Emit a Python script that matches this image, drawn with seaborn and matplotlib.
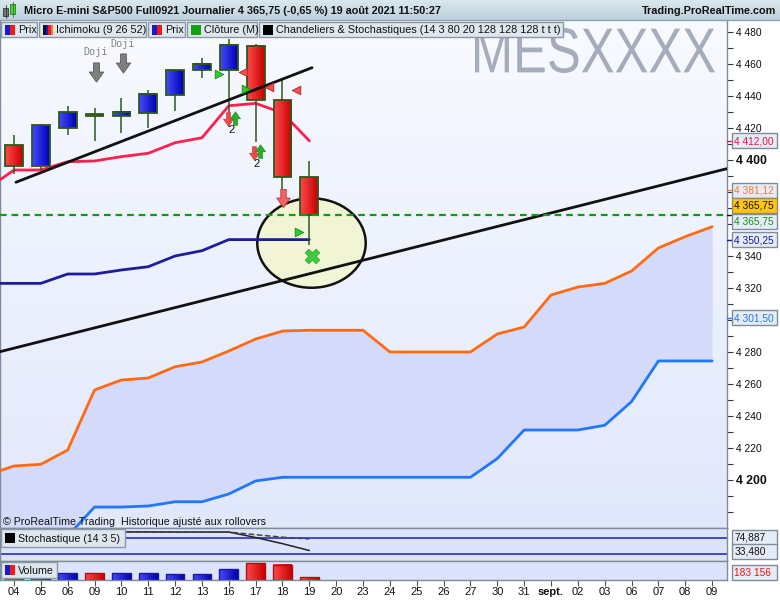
import numpy as np
import pandas as pd
import matplotlib
matplotlib.use("Agg")
import matplotlib.pyplot as plt
import seaborn as sns
from matplotlib.patches import Rectangle, Ellipse, PathPatch
from matplotlib.path import Path
from matplotlib.textpath import TextPath
from matplotlib.font_manager import FontProperties
from matplotlib.transforms import Affine2D
from matplotlib.colors import LinearSegmentedColormap

# ---------------- data ----------------
date_labels = ["04", "05", "06", "09", "10", "11", "12", "13", "16", "17", "18", "19", "20",
               "23", "24", "25", "26", "27", "30", "31", "sept.", "02", "03", "06", "07", "08", "09"]

candle_idx = list(range(12))
candle_open = [4409.4, 4396.4, 4420.2, 4428.5, 4427.3, 4429.2, 4440.4, 4456.0, 4456.0, 4471.2, 4437.3, 4389.4]
candle_high = [4415.6, 4422.5, 4433.7, 4432.5, 4438.7, 4443.7, 4456.0, 4463.7, 4475.4, 4472.5, 4450.0, 4399.4]
candle_low = [4391.2, 4393.7, 4415.6, 4412.0, 4416.7, 4420.2, 4430.6, 4451.0, 4420.8, 4411.5, 4381.7, 4346.9]
candle_close = [4396.4, 4421.9, 4430.0, 4427.5, 4430.0, 4441.2, 4456.0, 4460.0, 4471.9, 4437.3, 4389.4, 4365.75]
volume = [520000, 600000, 450000, 450000, 450000, 450000, 400000, 400000, 745000, 1130000, 1020000, 183156]

line_idx = list(range(-1, 12))
tenkan = [4382.0, 4393.75, 4393.75, 4398.9, 4399.4, 4402.1, 4404.2, 4410.8, 4413.9, 4433.9, 4435.4, 4429.4, 4412.0]
kijun = [4322.9, 4322.9, 4322.9, 4328.75, 4328.75, 4331.25, 4333.3, 4340.0, 4343.3, 4350.25, 4350.25, 4350.25, 4350.25]

span_idx = list(range(-1, 27))
span_a = [4203.1, 4208.75, 4209.8, 4218.75, 4256.25, 4262.5, 4263.75, 4270.8, 4273.75, 4280.6, 4288.1,
          4293.1, 4293.6, 4293.6, 4293.6, 4280.0, 4280.0, 4280.0, 4280.0, 4291.25, 4295.6, 4315.6,
          4320.6, 4322.9, 4330.6, 4345.0, 4352.1, 4358.3]
span_b = [4150.0, 4155.0, 4160.0, 4165.0, 4183.1, 4183.1, 4183.75, 4186.4, 4186.4, 4191.25, 4199.4,
          4201.7, 4201.7, 4201.7, 4201.7, 4201.7, 4201.7, 4201.7, 4201.7, 4213.4, 4231.25, 4231.25,
          4231.25, 4234.2, 4249.0, 4274.4, 4274.4, 4274.4]

stoch_k = [97, 98, 99, 100, 100, 100, 99.5, 99.5, 99.5, 80, 58, 33.48]
stoch_d = [95, 96, 97, 98, 99, 99, 99.5, 99.5, 99.5, 90, 81, 74.887]
stoch_levels = [80, 20]

trend1_x = [0.074, 11.10]
trend1_y = [4386.1, 4457.7]
trend2_x = [-0.521, 26.555]
trend2_y = [4280.2, 4394.6]

ellipse_center = (11.08, 4348.1)
ellipse_size = (4.04, 55.9)

green_tri_x = [7.63, 8.63, 10.61]
green_tri_y = [4453.6, 4444.4, 4354.8]
red_tri_x = [8.53, 9.50, 10.50]
red_tri_y = [4454.8, 4445.8, 4443.6]
small_down_x = [7.97, 8.94]
small_down_y = [4425.4, 4404.6]
small_up_x = [8.23, 9.16]
small_up_y = [4426.4, 4405.8]
count_x = [8.10, 9.05]
count_y = [4418.5, 4397.8]
count_text = ["2", "2"]
big_down_x = [10.02]
big_down_y = [4376.0]
doji_x = [3.05, 4.06]
doji_arrow_y = [4455.2, 4460.8]
doji_text_y = [4467.7, 4472.5]
cross_x = [11.09]
cross_y = [4340.2]

tenkan_label = 4412.00
span_a_label = 4381.12
last_price = 4365.75
kijun_label = 4350.25
span_b_label = 4301.50
price_ticks = list(range(4200, 4481, 20))
covered_ticks = [4380, 4360, 4300]

# ---------------- style ----------------
sns.set_theme(style="white")
plt.rcParams['font.family'] = ['Liberation Sans', 'DejaVu Sans']
plt.rcParams['axes.linewidth'] = 1.0

W, H = 780, 600
fig = plt.figure(figsize=(7.8, 6), dpi=100)
fig.patch.set_facecolor('white')


def px_axes(x0, y0, x1, y1, z=0):
    return fig.add_axes([x0 / W, 1 - y1 / H, (x1 - x0) / W, (y1 - y0) / H], zorder=z)


ax = px_axes(0, 20, 727, 528, 1)
ax_st = px_axes(0, 528, 727, 561, 1)
ax_vol = px_axes(0, 561, 727, 580, 1)
hdr = px_axes(0, 0, 780, 20, 1)

XL = (-0.521, 26.555)
YL = (4170, 4487.5)
spine_c = '#7d8c97'


def vgrad(a, top, bottom, z=0):
    cm = LinearSegmentedColormap.from_list('g', [bottom, top])
    a.imshow(np.linspace(0, 1, 256).reshape(-1, 1), extent=[0, 1, 0, 1], transform=a.transAxes,
             cmap=cm, aspect='auto', origin='lower', zorder=z)


# header
vgrad(hdr, '#dae7ee', '#bdd1dc')
hdr.axis('off')

# main background
vgrad(ax, '#f8faff', '#e1e8fb', 0)

# cloud
ax.fill_between(span_idx, span_a, span_b, color='#d3dafa', lw=0, zorder=1)

# ellipse
ax.add_patch(Ellipse(ellipse_center, ellipse_size[0], ellipse_size[1], facecolor='#f1f5d6',
                     edgecolor='#111111', lw=1.8, zorder=2))

# ichimoku lines
sns.lineplot(x=span_idx, y=span_a, ax=ax, color='#ff6a12', lw=2, zorder=3, legend=False)
sns.lineplot(x=span_idx, y=span_b, ax=ax, color='#1f78ff', lw=2, zorder=3, legend=False)
sns.lineplot(x=line_idx, y=tenkan, ax=ax, color='#ff1f4f', lw=2, zorder=3, legend=False)
sns.lineplot(x=line_idx, y=kijun, ax=ax, color='#1c1c9c', lw=2, zorder=3, legend=False)

# trend lines & close line
ax.plot(trend1_x, trend1_y, color='#111111', lw=2, zorder=6)
ax.plot(trend2_x, trend2_y, color='#111111', lw=2, zorder=6)
ax.axhline(last_price, color='#109a10', lw=1.6, ls=(0, (3, 2.2)), zorder=6)

# candles
edge = '#2c5a1c'
ax.vlines(candle_idx, candle_low, candle_high, color=edge, lw=1.1, zorder=4)
body_lo = [min(o, c) for o, c in zip(candle_open, candle_close)]
body_h = [max(abs(c - o), 0.8) for o, c in zip(candle_open, candle_close)]
up = [c >= o for o, c in zip(candle_open, candle_close)]
bw = 0.66
bars = ax.bar(candle_idx, body_h, bottom=body_lo, width=bw, facecolor='none', edgecolor=edge,
              lw=1.3, zorder=5.1)
cm_red = LinearSegmentedColormap.from_list('r', ['#ff4a4a', '#c80000'])
cm_blue = LinearSegmentedColormap.from_list('b', ['#4848ff', '#0000b0'])
grad_row = np.linspace(0, 1, 64).reshape(1, -1)
for b, u in zip(bars, up):
    x0, y0, w, h = b.get_x(), b.get_y(), b.get_width(), b.get_height()
    ax.imshow(grad_row, extent=[x0, x0 + w, y0, y0 + h], cmap=cm_blue if u else cm_red,
              aspect='auto', zorder=5, interpolation='bilinear')

# signal markers
ax.scatter(green_tri_x, green_tri_y, marker='>', s=38, color='#2ccc2c', edgecolor='#168a16', lw=0.6, zorder=7)
ax.scatter(red_tri_x, red_tri_y, marker='<', s=38, color='#f05050', edgecolor='#b82020', lw=0.6, zorder=7)

down_path = Path([(-0.3, 1), (0.3, 1), (0.3, 0.05), (0.75, 0.05), (0, -1), (-0.75, 0.05), (-0.3, 0.05), (-0.3, 1)],
                 [Path.MOVETO] + [Path.LINETO] * 6 + [Path.CLOSEPOLY])
up_path = Path([(x, -y) for x, y in down_path.vertices], down_path.codes)
ax.scatter(small_down_x, small_down_y, marker=down_path, s=95, color='#ee4a4a', edgecolor='#c03030', lw=0.4, zorder=7)
ax.scatter(small_up_x, small_up_y, marker=up_path, s=95, color='#25b025', edgecolor='#168016', lw=0.4, zorder=7)
ax.scatter(big_down_x, big_down_y, marker=down_path, s=170, color='#f06464', edgecolor='#c83434', lw=0.6, zorder=7)
ax.scatter(doji_x, doji_arrow_y, marker=down_path, s=190, color='#808080', edgecolor='#555555', lw=0.6, zorder=7)
for x, y, t in zip(count_x, count_y, count_text):
    ax.text(x, y, t, ha='center', va='center', fontsize=8, color='#111111', zorder=7)
for x, y in zip(doji_x, doji_text_y):
    ax.text(x, y, "Doji", ha='center', va='center', fontsize=7.3, color='#858585',
            family=['DejaVu Sans Mono'], zorder=7)
ax.scatter(cross_x, cross_y, marker='X', s=110, color='#3dcc3d', edgecolor='#2aa02a', lw=0.5, zorder=7)

# main axes cosmetics
ax.set_xlim(*XL)
ax.set_ylim(*YL)
ax.set_xlabel('')
ax.set_ylabel('')
ax.set_xticks([])
ax.yaxis.tick_right()
ax.set_yticks(price_ticks, labels=["" if v in covered_ticks else f"{v // 1000} {v % 1000:03d}"
                                   for v in price_ticks])
ax.set_yticks(list(range(4180, 4490, 10)), minor=True)
ax.tick_params(axis='y', which='both', direction='out', length=4, width=0.8, color='#333333',
               pad=2.5, labelcolor='#111111', right=True, left=False)
ax.tick_params(axis='y', which='major', labelsize=7.4)
for v, tk in zip(price_ticks, ax.yaxis.get_major_ticks()):
    if v in (4400, 4200):
        for lab in (tk.label1, tk.label2):
            lab.set_fontweight('bold')
            lab.set_fontsize(8.8)
for s in ax.spines.values():
    s.set_color(spine_c)
ax.spines['top'].set_visible(False)

# stochastic panel
ax_st.set_facecolor('#dce4fb')
for lv in stoch_levels:
    ax_st.axhline(lv, color='#2a2ad0', lw=1.2, zorder=1)
sns.lineplot(x=candle_idx, y=stoch_k, ax=ax_st, color='#222222', lw=1.1, zorder=2, legend=False)
sns.lineplot(x=candle_idx, y=stoch_d, ax=ax_st, color='#444444', lw=1.1, ls='--', zorder=2, legend=False)
ax_st.set_xlim(*XL)
ax_st.set_ylim(-4, 114)
ax_st.set_xticks([])
ax_st.set_yticks([])
ax_st.set_xlabel('')
ax_st.set_ylabel('')
for s in ax_st.spines.values():
    s.set_color(spine_c)

# volume panel
ax_vol.set_facecolor('#dce4fb')
vbars = ax_vol.bar(candle_idx, volume, width=0.7, facecolor='none',
                   edgecolor=['#1a1aa0' if u else '#b01010' for u in up], lw=1.0, zorder=3)
for b, u in zip(vbars, up):
    x0, y0, w, h = b.get_x(), b.get_y(), b.get_width(), b.get_height()
    ax_vol.imshow(grad_row, extent=[x0, x0 + w, y0, y0 + h], cmap=cm_blue if u else cm_red,
                  aspect='auto', zorder=2, interpolation='bilinear')
ax_vol.set_xlim(*XL)
ax_vol.set_ylim(0, 1.29e6)
ax_vol.set_yticks([])
ax_vol.set_ylabel('')
ax_vol.set_xticks(range(len(date_labels)), labels=date_labels)
ax_vol.tick_params(axis='x', direction='out', length=4, width=0.8, color='#555555', pad=1.2,
                   labelsize=8, labelcolor='#111111', bottom=True)
for lab, tk in zip(date_labels, ax_vol.xaxis.get_major_ticks()):
    if lab == 'sept.':
        tk.label1.set_fontweight('bold')
for s in ax_vol.spines.values():
    s.set_color(spine_c)

# ---------------- overlay (chrome) ----------------
ov = fig.add_axes([0, 0, 1, 1], zorder=10)
ov.set_xlim(0, W)
ov.set_ylim(H, 0)
ov.axis('off')
ov.patch.set_alpha(0)

# watermark, fitted into its box (x 475-715, cap height 28-73 px)
tp = TextPath((0, 0), "MESXXXX", size=100, prop=FontProperties(family='Liberation Sans'))
ext = tp.get_extents()
wm_tr = (Affine2D().translate(-ext.x0, -ext.y0)
         .scale(240 / ext.width, -45 / ext.height).translate(475, 73))
ov.add_patch(PathPatch(tp, transform=wm_tr + ov.transData, facecolor='#a5acbc', lw=0, zorder=0.5))

# header
ov.plot([0, W], [20, 20], color='#8fa3ae', lw=1)
ov.add_patch(Rectangle((3, 8), 5, 8, facecolor='#777777', edgecolor='#333333', lw=0.6))
ov.plot([5.5, 5.5], [5, 18], color='#333333', lw=0.6)
ov.add_patch(Rectangle((10, 4), 5, 10, facecolor='#4cd43a', edgecolor='#2a7a1a', lw=0.6))
ov.plot([12.5, 12.5], [2, 17], color='#2a7a1a', lw=0.6)
ov.text(24, 10.5, "Micro E-mini S&P500 Full0921 Journalier 4 365,75 (-0,65 %) 19 août 2021 11:50:27",
        fontsize=7.85, fontweight='bold', va='center', ha='left', color='#111111')
ov.text(776, 10.5, "Trading.ProRealTime.com", fontsize=7.85, fontweight='bold', va='center', ha='right',
        color='#111111')

# legend row
legend_items = [(1, 37, "Prix", 'rb'), (39, 146, "Ichimoku (9 26 52)", 'multi'), (148, 185, "Prix", 'rb'),
                (187, 257, "Clôture (M)", 'green'),
                (259, 563, "Chandeliers & Stochastiques (14 3 80 20 128 128 128 t t t)", 'black')]


def icon(x, y, kind, s=10):
    if kind == 'rb':
        ov.add_patch(Rectangle((x, y), s / 2, s, facecolor='#1a1acc', lw=0))
        ov.add_patch(Rectangle((x + s / 2, y), s / 2, s, facecolor='#ee1a1a', lw=0))
    elif kind == 'multi':
        cols = ['#111111', '#1a1acc', '#ee1a1a', '#ff7a1a']
        for i, c in enumerate(cols):
            ov.add_patch(Rectangle((x + i * s / 4, y), s / 4, s, facecolor=c, lw=0))
    elif kind == 'green':
        ov.add_patch(Rectangle((x, y), s, s, facecolor='#13a013', lw=0))
    else:
        ov.add_patch(Rectangle((x, y), s, s, facecolor='#000000', lw=0))


for x0, x1, txt, kind in legend_items:
    ov.add_patch(Rectangle((x0, 22), x1 - x0, 15, facecolor='#dfe7ee', edgecolor='#8a99a4', lw=1))
    icon(x0 + 4, 24.5, kind)
    ov.text(x0 + 17, 30, txt, fontsize=7.8, va='center', ha='left', color='#111111')

# copyright
ov.text(3, 522, "© ProRealTime Trading  Historique ajusté aux rollovers", fontsize=7.7, va='center',
        ha='left', color='#111111')

# panel legend boxes
ov.add_patch(Rectangle((0.5, 529), 124.5, 18, facecolor='#dfe7ee', edgecolor='#8a99a4', lw=1))
icon(5, 533, 'black')
ov.text(18, 538.5, "Stochastique (14 3 5)", fontsize=7.7, va='center', ha='left', color='#111111')
ov.add_patch(Rectangle((0.5, 562), 56.5, 16, facecolor='#dfe7ee', edgecolor='#8a99a4', lw=1))
icon(5, 565, 'rb')
ov.text(18, 570.5, "Volume", fontsize=7.7, va='center', ha='left', color='#111111')


def ypix(a, v):
    return H - a.transData.transform((0, v))[1]


def vbox(y, text, color, face='#e6ecf7', edgec='#7d8d99', tick=None):
    ov.add_patch(Rectangle((732, y - 7.5), 45, 15, facecolor=face, edgecolor=edgec, lw=1, zorder=3))
    ov.text(734.5, y + 0.5, text, color=color, fontsize=7.3, va='center', ha='left', zorder=4)
    if tick is not None:
        ov.plot([727, 732], [tick, tick], color=color, lw=1)


def fr(v):
    return f"{int(v) // 1000} {v % 1000:06.2f}".replace('.', ',')


vbox(ypix(ax, tenkan_label), fr(tenkan_label), '#ee1144', tick=ypix(ax, tenkan_label))
vbox(ypix(ax, span_a_label), fr(span_a_label), '#ff7722', tick=ypix(ax, span_a_label))
vbox(ypix(ax, last_price) - 9.7, fr(last_price), '#111111', face='#ffc414', edgec='#9a8a60',
     tick=ypix(ax, last_price))
vbox(ypix(ax, last_price) + 6.7, fr(last_price), '#119011')
vbox(ypix(ax, kijun_label), fr(kijun_label), '#1a1a9a', tick=ypix(ax, kijun_label))
vbox(ypix(ax, span_b_label), fr(span_b_label), '#2277ee', tick=ypix(ax, span_b_label))
vbox(537, f"{stoch_d[-1]:.3f}".replace('.', ','), '#111111')
vbox(551.5, f"{stoch_k[-1]:.3f}".replace('.', ','), '#111111')
vbox(572.3, f"{volume[-1] // 1000} {volume[-1] % 1000:03d}", '#ee1111')

fig.savefig("out.png", dpi=100)
